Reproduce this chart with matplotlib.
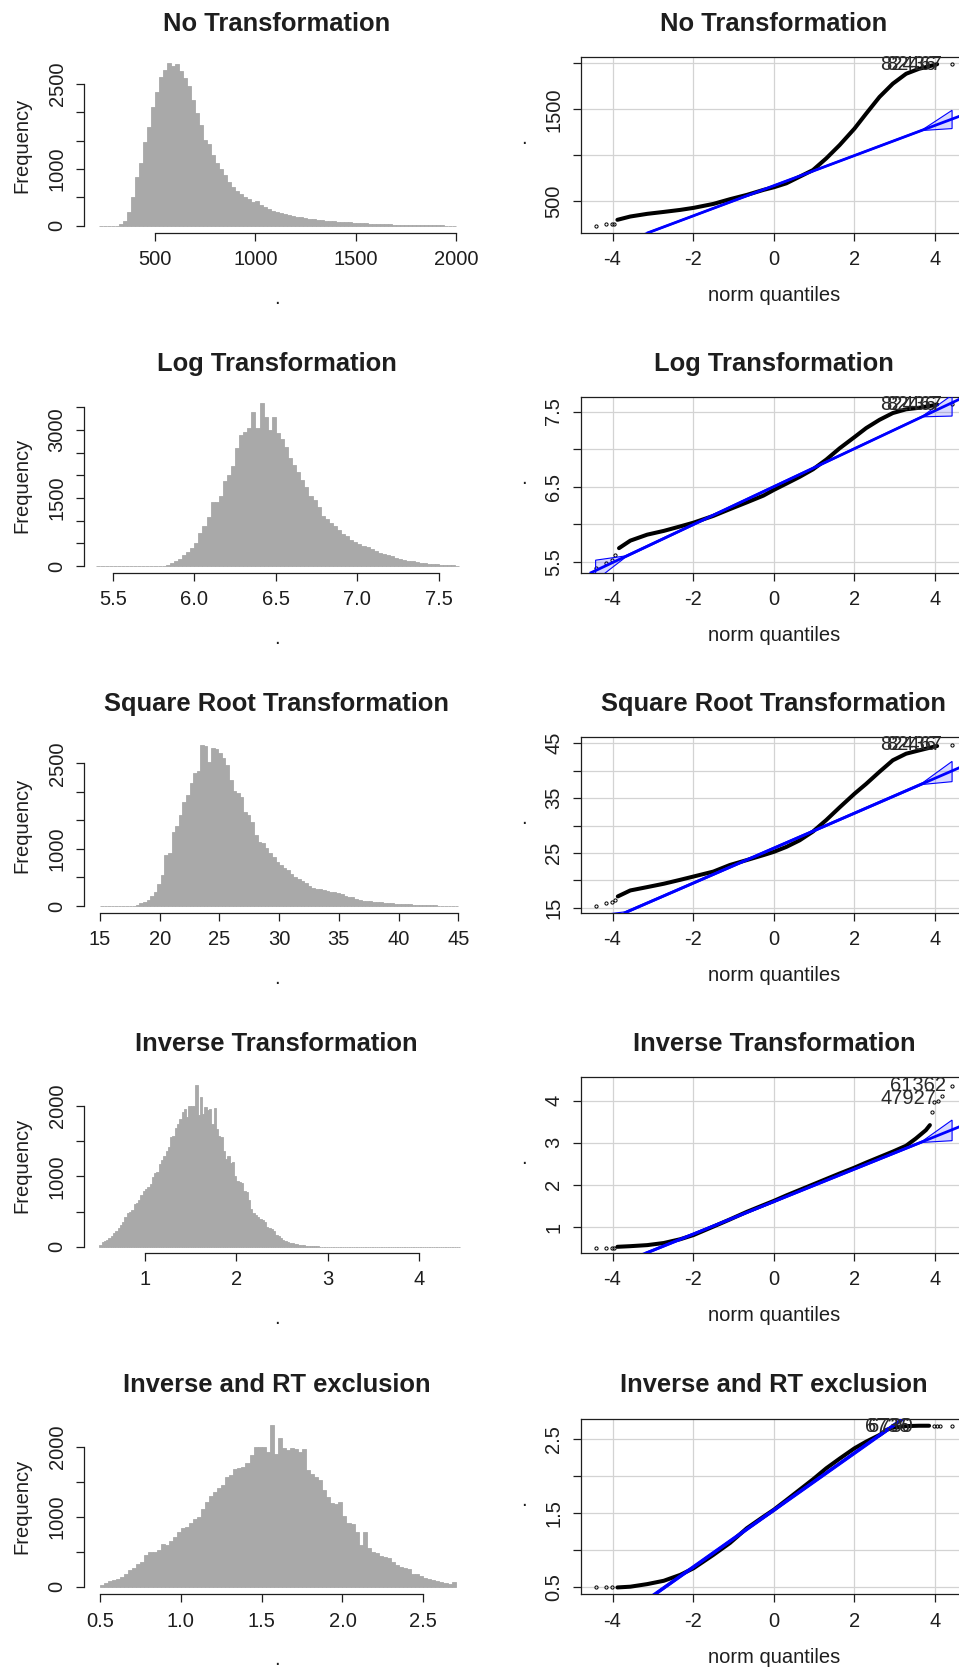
import matplotlib
matplotlib.use("Agg")
import matplotlib.pyplot as plt
import numpy as np
from matplotlib.patches import Polygon

plt.rcParams["font.family"] = ["Liberation Sans", "DejaVu Sans"]

W, H, DPI = 959, 1670, 100
BAR = "#a9a9a9"
INK = "#1e1e1e"
BLUE = "#0000ff"
GRID = "#d3d3d3"

titles = ["No Transformation", "Log Transformation", "Square Root Transformation",
          "Inverse Transformation", "Inverse and RT exclusion"]

# ---- histograms: first break, bin width, counts per bin ----
rt_start, rt_width = 220, 20
rt_counts = [0, 0, 0, 0, 0,
             35, 88, 246, 510, 863, 1097, 1479, 1743, 2095, 2359,
             2611, 2740, 2858, 2811, 2846, 2729, 2594, 2459, 2212, 1978,
             1772, 1508, 1438, 1244, 1109, 992, 892, 775, 675, 616,
             558, 499, 464, 423, 434, 364, 335, 293, 264, 246,
             217, 205, 188, 170, 158, 147, 135, 123, 112, 100,
             94, 88, 76, 76, 70, 65, 59, 59, 53, 47,
             41, 41, 35, 35, 29, 29, 23, 23, 18, 18,
             18, 12, 8, 8, 6, 6, 5, 5, 4, 4, 4, 3, 3, 3]

log_start, log_width = 5.4, 0.025
log_counts = [0, 0, 0, 0, 0, 0, 0, 0, 0, 0, 0, 0, 0, 0, 0, 0, 0,
              22, 59, 110, 154, 235, 301, 390, 500, 721, 890,
              1088, 1419, 1419, 1544, 1882, 2007, 2206, 2610, 2890, 2963,
              3037, 3404, 3051, 3588, 3294, 3000, 3294, 2926, 2794, 2618,
              2375, 2228, 2081, 1897, 1750, 1544, 1456, 1309, 1103, 1029,
              956, 882, 794, 699, 662, 574, 529, 485, 449, 419,
              382, 331, 294, 272, 235, 213, 184, 154, 132, 118,
              103, 88, 74, 66, 51, 44, 37, 29, 29, 22,
              15, 8]

sqrt_start, sqrt_width = 15, 0.3
sqrt_counts = [0, 0, 0, 0, 0, 0, 0, 0, 0, 3,
               18, 47, 70, 111, 169, 251, 386, 543, 894, 923,
               1303, 1402, 1595, 1828, 1945, 2150, 2336, 2371, 2815, 2804,
               2529, 2775, 2745, 2675, 2588, 2471, 2208, 2021, 1974, 1904,
               1653, 1595, 1478, 1244, 1127, 1098, 1011, 923, 864, 777,
               718, 660, 631, 561, 502, 479, 438, 397, 350, 315,
               304, 292, 280, 263, 251, 239, 234, 210, 181, 164,
               152, 123, 105, 93, 88, 82, 76, 70, 64, 58,
               53, 47, 41, 35, 35, 29, 29, 23, 23, 18,
               18, 15, 12, 10, 8, 6, 5, 4, 3, 6]

inv_start, inv_width = 0.5, 0.025
inv_counts = [24, 66, 85, 100, 118, 156, 190, 227, 270, 313,
              351, 427, 474, 493, 521, 602, 621, 664, 735, 796,
              825, 844, 891, 986, 1043, 1066, 1171, 1232, 1289, 1365,
              1422, 1555, 1573, 1682, 1744, 1810, 1919, 1953, 1848, 2000,
              2000, 2000, 2299, 1872, 2123, 1886, 1981, 1943, 1953, 1744,
              1967, 1668, 1573, 1555, 1365, 1242, 1289, 1194, 1209, 1005,
              929, 919, 900, 796, 782, 664, 540, 483, 445, 417,
              398, 379, 351, 284, 270, 256, 227, 166, 152, 118,
              95, 85, 71, 57, 47, 38, 33, 24, 19, 19,
              14, 14, 9, 9, 5, 4,
              3, 3, 2, 2, 2, 2, 1, 1, 1, 1,
              1, 1, 0, 1, 0, 1, 0, 0, 1, 0,
              0, 1, 0, 0, 0, 1, 0, 0, 0, 0,
              1, 0, 0, 0, 0, 0, 1, 0, 0, 0,
              0, 0, 0, 0, 1, 0, 0, 0, 0, 0,
              0, 0, 0, 0, 0, 0, 1, 0, 0, 0,
              0, 1]

invx_start, invx_width = 0.5, 0.025
invx_counts = [29, 52, 81, 100, 110, 143, 186, 233, 271, 324,
               352, 448, 490, 500, 524, 605, 595, 648, 714, 786,
               833, 857, 905, 962, 1000, 1105, 1214, 1295, 1352, 1405,
               1452, 1571, 1590, 1676, 1700, 1705, 1771, 1881, 1990, 2000,
               2000, 1919, 2310, 1895, 2119, 1976, 1952, 1986, 1962, 1929,
               1962, 1667, 1610, 1562, 1524, 1381, 1286, 1200, 1181, 1214,
               1010, 914, 895, 786, 595, 786, 548, 500, 476, 438,
               419, 405, 357, 310, 286, 262, 248, 190, 176, 152,
               119, 105, 95, 86, 71, 57, 38, 71]

hist_xticks = [[500, 1000, 1500, 2000],
               [5.5, 6.0, 6.5, 7.0, 7.5],
               [15, 20, 25, 30, 35, 40, 45],
               [1, 2, 3, 4],
               [0.5, 1.0, 1.5, 2.0, 2.5]]
hist_xlabels = [["500", "1000", "1500", "2000"],
                ["5.5", "6.0", "6.5", "7.0", "7.5"],
                ["15", "20", "25", "30", "35", "40", "45"],
                ["1", "2", "3", "4"],
                ["0.5", "1.0", "1.5", "2.0", "2.5"]]
hist_yticks = [[0, 500, 1000, 1500, 2000, 2500],
               [0, 500, 1000, 1500, 2000, 2500, 3000, 3500],
               [0, 500, 1000, 1500, 2000, 2500],
               [0, 500, 1000, 1500, 2000],
               [0, 500, 1000, 1500, 2000]]
hist_ylabels = [["0", "", "1000", "", "", "2500"],
                ["0", "", "", "1500", "", "", "3000", ""],
                ["0", "", "1000", "", "", "2500"],
                ["0", "", "1000", "", "2000"],
                ["0", "", "1000", "", "2000"]]
hist_xlim = [(146, 2065), (5.324, 7.684), (13.66, 45.9), (0.333, 4.544), (0.401, 2.783)]
hist_ylim = [(-123, 2965), (-148, 3722), (-117, 2956), (-85, 2409), (-104, 2400)]

# ---- normal QQ plots: theoretical quantile vs sample value ----
qq1_q = [-3.88, -3.56, -3.14, -2.73, -2.32, -1.99, -1.50, -1.09, -0.67, -0.26, 0.00, 0.31,
         0.64, 0.97, 1.30, 1.63, 2.00, 2.29, 2.62, 2.95, 3.28, 3.60, 3.93, 4.05]
qq1_v = [298, 334, 363, 384, 406, 428, 471, 522, 569, 623, 652, 695,
         767, 839, 966, 1110, 1290, 1453, 1634, 1778, 1886, 1940, 1976, 1990]
qq2_q = [-3.84, -3.56, -3.14, -2.73, -2.32, -1.99, -1.50, -1.09, -0.67, -0.26, 0.00, 0.31,
         0.64, 0.97, 1.30, 1.63, 2.00, 2.29, 2.62, 2.95, 3.28, 3.60, 3.93, 4.05]
qq2_v = [5.68, 5.78, 5.86, 5.91, 5.97, 6.02, 6.11, 6.20, 6.29, 6.38, 6.456, 6.54,
         6.63, 6.73, 6.86, 7.01, 7.16, 7.28, 7.39, 7.48, 7.53, 7.55, 7.58, 7.595]
qq3_q = [-3.87, -3.56, -3.14, -2.73, -2.32, -1.99, -1.50, -1.09, -0.67, -0.26, 0.00, 0.31,
         0.64, 0.97, 1.30, 1.63, 2.00, 2.29, 2.62, 2.95, 3.28, 3.60, 3.93, 4.05]
qq3_v = [17.07, 18.16, 18.77, 19.38, 20.1, 20.7, 21.6, 22.8, 23.7, 24.6, 25.2, 26.1,
         27.3, 28.9, 31.0, 33.3, 35.8, 37.6, 39.8, 41.9, 43.1, 43.7, 44.3, 44.5]
qq4_q = [-3.88, -3.56, -3.14, -2.73, -2.32, -1.99, -1.50, -1.09, -0.67, -0.26, 0.00, 0.31,
         0.64, 0.97, 1.30, 1.63, 2.00, 2.29, 2.62, 2.95, 3.28, 3.52, 3.77, 3.87]
qq4_v = [0.53, 0.545, 0.57, 0.62, 0.71, 0.81, 1.01, 1.18, 1.36, 1.52, 1.62, 1.75,
         1.88, 2.01, 2.14, 2.27, 2.41, 2.53, 2.66, 2.79, 2.93, 3.10, 3.30, 3.42]
qq5_q = [-3.88, -3.56, -3.14, -2.73, -2.32, -1.99, -1.50, -1.09, -0.67, -0.26, 0.00, 0.31,
         0.64, 0.97, 1.30, 1.63, 2.00, 2.29, 2.62, 2.80, 2.95, 3.28, 3.60, 3.85]
qq5_v = [0.50, 0.51, 0.545, 0.59, 0.67, 0.76, 0.94, 1.10, 1.30, 1.455, 1.55, 1.68,
         1.82, 1.96, 2.11, 2.24, 2.38, 2.47, 2.56, 2.63, 2.66, 2.68, 2.685, 2.685]

# isolated extreme points
tail1_q = [-4.42, -4.17, -4.02, -3.97, 4.42]
tail1_v = [236, 254, 254, 258, 1987]
tail2_q = [-4.42, -4.17, -4.02, -3.95, 4.42]
tail2_v = [5.42, 5.48, 5.52, 5.59, 7.60]
tail3_q = [-4.42, -4.17, -4.02, -3.93, 4.42]
tail3_v = [15.24, 15.85, 15.97, 16.46, 44.6]
tail4_q = [-4.42, -4.17, -4.02, -3.97, 3.92, 3.98, 4.06, 4.18, 4.42]
tail4_v = [0.5, 0.5, 0.5, 0.51, 3.72, 3.97, 4.0, 4.10, 4.35]
tail5_q = [-4.42, -4.17, -4.02, 3.98, 4.05, 4.12, 4.42]
tail5_v = [0.5, 0.5, 0.5, 2.685, 2.685, 2.685, 2.685]

# fitted reference line
qq_intercept = [669, 6.50, 25.87, 1.604, 1.545]
qq_slope = [164, 0.253, 3.19, 0.386, 0.386]

# confidence envelope
env_q = [-4.42, -3.7, 3.7, 4.42]
env_lo = [[-156, 56, 1270, 1290], [5.25, 5.55, 7.43, 7.44], [9.9, 13.9, 37.5, 38.0],
          [-0.35, 0.15, 3.01, 3.05], [-0.41, 0.10, 2.95, 3.0]]
env_hi = [[44, 68, 1282, 1489], [5.52, 5.575, 7.445, 7.72], [13.6, 14.25, 37.85, 41.7],
          [0.15, 0.2, 3.05, 3.54], [0.09, 0.14, 2.99, 3.5]]

# point ids written next to the extremes: (text, q, value)
qq_ids = [[("82436", 4.03, 1992), ("82467", 4.18, 1992)],
          [("82436", 4.03, 7.59), ("82467", 4.18, 7.59)],
          [("82436", 4.03, 44.7), ("82467", 4.18, 44.7)],
          [("61362", 4.27, 4.37), ("47927", 4.04, 4.06)],
          [("6736", 3.37, 2.67), ("6730", 3.44, 2.67)]]

qq_xticks = [-4, -2, 0, 2, 4]
qq_xlabels = ["-4", "-2", "0", "2", "4"]
qq_yticks = [[500, 1000, 1500, 2000],
             [5.5, 6.0, 6.5, 7.0, 7.5],
             [15, 20, 25, 30, 35, 40, 45],
             [1, 2, 3, 4],
             [0.5, 1.0, 1.5, 2.0, 2.5]]
qq_ylabels = [["500", "", "1500", ""],
              ["5.5", "", "6.5", "", "7.5"],
              ["15", "", "25", "", "35", "", "45"],
              ["1", "2", "3", "4"],
              ["0.5", "", "1.5", "", "2.5"]]
qq_xlim = (-4.79, 4.79)
qq_ylim = [(158, 2065), (5.353, 7.69), (14.1, 46.09), (0.39, 4.555), (0.41, 2.78)]

hist_data = [(rt_start, rt_width, rt_counts), (log_start, log_width, log_counts),
             (sqrt_start, sqrt_width, sqrt_counts), (inv_start, inv_width, inv_counts),
             (invx_start, invx_width, invx_counts)]
qq_data = [(qq1_q, qq1_v, tail1_q, tail1_v), (qq2_q, qq2_v, tail2_q, tail2_v),
           (qq3_q, qq3_v, tail3_q, tail3_v), (qq4_q, qq4_v, tail4_q, tail4_v),
           (qq5_q, qq5_v, tail5_q, tail5_v)]

# layout in pixels
row_tops = [57.3, 397.3, 737.3, 1077.3, 1418.7]
box_h = 175.4
FS = 14.5
TITLE_FS = 18.4

fig = plt.figure(figsize=(W / DPI, H / DPI), dpi=DPI, facecolor="white")


def px_axes(x0, y0, x1, y1):
    return fig.add_axes([x0 / W, 1 - y1 / H, (x1 - x0) / W, (y1 - y0) / H])


def px_text(x, y, s, **kw):
    fig.text(x / W, 1 - y / H, s, color=INK, fontsize=FS, **kw)


def style_ticks(ax):
    ax.tick_params(axis="both", direction="out", length=6, width=0.9, colors=INK, labelsize=FS)
    ax.tick_params(axis="x", pad=6.8)
    ax.tick_params(axis="y", pad=6.5, labelrotation=90)
    for lab in ax.get_yticklabels():
        lab.set_va("center")
    for sp in ax.spines.values():
        sp.set_linewidth(0.9)
        sp.set_color(INK)


for i, top in enumerate(row_tops):
    # histogram
    ax = px_axes(84, top, 469, top + box_h)
    start, width, counts = hist_data[i]
    edges = start + width * np.arange(len(counts) + 1)
    ax.bar(edges[:-1], counts, width=width, align="edge", color=BAR,
           edgecolor=BAR, linewidth=0.6)
    ax.set_xlim(*hist_xlim[i])
    ax.set_ylim(*hist_ylim[i])
    ax.set_xticks(hist_xticks[i], hist_xlabels[i])
    ax.set_yticks(hist_yticks[i], hist_ylabels[i])
    ax.spines["top"].set_visible(False)
    ax.spines["right"].set_visible(False)
    ax.spines["bottom"].set_bounds(hist_xticks[i][0], hist_xticks[i][-1])
    ax.spines["left"].set_bounds(hist_yticks[i][0], hist_yticks[i][-1])
    style_ticks(ax)
    ax.set_title(titles[i], fontsize=TITLE_FS, fontweight="bold", color=INK, pad=19.2)
    px_text(21.7, top + 87.7, "Frequency", rotation=90, ha="center", va="center")
    px_text(276.5, top + 246.5, ".", ha="center", va="baseline")

    # QQ plot
    ax = px_axes(580.7, top, 967, top + box_h)
    q, v, tq, tv = qq_data[i]
    ax.set_xlim(*qq_xlim)
    ax.set_ylim(*qq_ylim[i])
    ax.set_xticks(qq_xticks, qq_xlabels)
    ax.set_yticks(qq_yticks[i], qq_ylabels[i])
    ax.grid(True, color=GRID, linewidth=0.9, zorder=0)
    ax.set_axisbelow(True)
    ax.plot(q, v, color="black", linewidth=2.9, solid_capstyle="round",
            solid_joinstyle="round", zorder=2)
    ax.plot(tq, tv, linestyle="none", marker="o", markersize=2.3, mfc="none",
            mec="black", mew=0.7, zorder=2)
    lo = np.asarray(env_lo[i], float)
    hi = np.asarray(env_hi[i], float)
    verts = np.column_stack([np.concatenate([env_q, env_q[::-1]]),
                             np.concatenate([hi, lo[::-1]])])
    ax.add_patch(Polygon(verts, closed=True, facecolor=(0, 0, 1, 0.15),
                         edgecolor=BLUE, linewidth=0.8, zorder=3))
    ax.axline((0, qq_intercept[i]), slope=qq_slope[i], color=BLUE, linewidth=2.0, zorder=4)
    for s, xq, yv in qq_ids[i]:
        ax.text(xq, yv, s, ha="right", va="center", fontsize=FS, color="#2a2a2a", zorder=5)
    style_ticks(ax)
    ax.set_title(titles[i], fontsize=TITLE_FS, fontweight="bold", color=INK, pad=19.2)
    px_text(773.9, top + 238.5, "norm quantiles", ha="center", va="center")
    px_text(524.3, top + 87.2, ".", ha="center", va="baseline")

fig.savefig("out.png", dpi=DPI, facecolor="white")
